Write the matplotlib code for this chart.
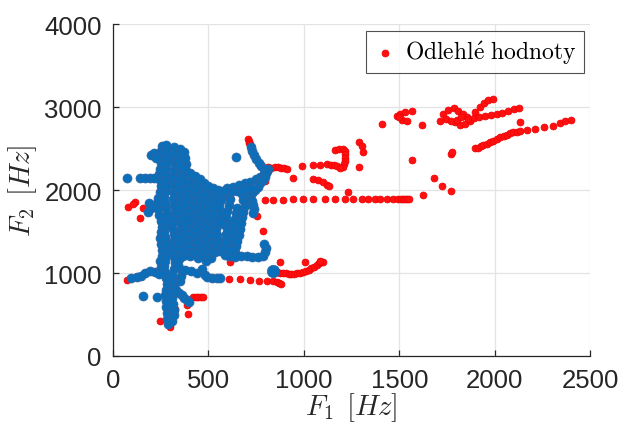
import matplotlib
matplotlib.use("Agg")
import matplotlib.pyplot as plt
import numpy as np

plt.rcParams['mathtext.fontset'] = 'cm'
plt.rcParams['font.family'] = ['Liberation Sans', 'DejaVu Sans']

# ---------------- data (F1, F2) in Hz ----------------
# outliers (red)
red_left = [(80, 1791), (115, 1852), (156, 1783), (141, 1659), (105, 1828)]
red_bottom = [(72, 919), (246, 422), (299, 350), (301, 380), (303, 410), (305, 440), (301, 470),
              (299, 490), (325, 566), (386, 614), (395, 506), (421, 707), (435, 707), (447, 707),
              (460, 707), (470, 707), (613, 1129)]
red_row900 = [(552, 936), (610, 924), (666, 922), (720, 914), (767, 906), (808, 898),
              (840, 905), (858, 890), (870, 875), (878, 866)]
red_curve1000 = [(850, 1030), (862, 1015), (875, 1005), (890, 998), (905, 995), (920, 993),
                 (935, 992), (950, 994), (965, 998), (980, 1003), (995, 1010), (1010, 1020),
                 (1025, 1035), (1040, 1055), (1055, 1075), (1068, 1095), (1080, 1115),
                 (1092, 1130), (1100, 1128), (1085, 1140), (1006, 1129), (875, 1136)]
red_row1890 = [(797, 1875), (840, 1880), (893, 1885), (945, 1888), (997, 1890), (1050, 1892),
               (1111, 1893), (1164, 1894), (1216, 1895), (1260, 1895), (1303, 1895),
               (1338, 1896), (1373, 1896), (1399, 1896), (1434, 1895), (1469, 1895),
               (1495, 1894), (1510, 1893), (1521, 1892), (1530, 1893), (1539, 1895),
               (1550, 1894), (1233, 1980), (1623, 1940), (1684, 2141), (1726, 2052),
               (1772, 1984)]
red_row2270 = [(812, 2265), (830, 2270), (848, 2275), (865, 2275), (880, 2270), (895, 2265),
               (912, 2255), (942, 2141), (989, 2285), (1047, 2301), (1085, 2301),
               (1120, 2313), (1140, 2305), (1160, 2300), (1175, 2285), (1165, 2480),
               (1185, 2490), (1205, 2495), (1216, 2470), (1218, 2430), (1216, 2390),
               (1214, 2350), (1212, 2310), (1205, 2280), (1190, 2272),
               (1050, 2133), (1076, 2120), (1102, 2092), (1123, 2060), (1130, 2048),
               (1291, 2582), (1303, 2534), (1312, 2454), (1291, 2273)]
red_arm_top = [(709, 2610), (711, 2590), (713, 2570), (718, 2550), (725, 2530),
               (797, 2112), (814, 2273), (753, 1683), (788, 1510)]
red_upper = [(1408, 2795), (1487, 2896), (1504, 2916), (1530, 2944), (1565, 2956),
             (1513, 2848), (1539, 2835), (1497, 2880), (1565, 2361), (1621, 2787),
             (1714, 2835), (1731, 2916), (1757, 2968), (1784, 2984), (1810, 2956),
             (1833, 2916), (1853, 2876), (1792, 2815), (1819, 2783), (1845, 2795),
             (1871, 2835), (1745, 2860), (1770, 2830), (1800, 2850), (1825, 2880),
             (1897, 2936), (1924, 2996), (1944, 3048), (1967, 3084), (1993, 3096),
             (1860, 2860), (1890, 2870), (1920, 2880), (1950, 2890), (1980, 2905),
             (2010, 2920), (2040, 2935), (2070, 2955), (2100, 2975), (2125, 2990),
             (2133, 2815), (1770, 2440), (1778, 2460)]
red_lower = [(1897, 2502), (1912, 2512), (1927, 2527), (1941, 2542), (1958, 2560),
             (1975, 2577), (1993, 2594), (2010, 2614), (2028, 2634), (2046, 2654),
             (2064, 2670), (2081, 2684), (2098, 2695), (2115, 2702), (2133, 2707),
             (2168, 2727), (2212, 2735), (2259, 2755), (2304, 2775), (2343, 2803),
             (2369, 2827), (2399, 2847)]

# main data (blue)
blue_tracks = [
    [(258, 1000), (252, 1070), (248, 1140), (255, 1210), (260, 1280), (254, 1350), (248, 1420),
     (250, 1490), (256, 1560), (250, 1630), (244, 1700), (238, 1770), (232, 1840), (238, 1910),
     (246, 1980), (252, 2050), (248, 2120), (242, 2190), (246, 2260), (252, 2330), (246, 2400),
     (250, 2470), (258, 2530)],
    [(290, 380), (286, 450), (282, 520), (280, 590), (276, 660), (272, 730), (276, 800),
     (282, 870), (278, 940), (272, 1010), (268, 1080), (274, 1150), (280, 1220), (284, 1290),
     (280, 1360), (274, 1430), (270, 1500), (276, 1570), (282, 1640), (286, 1710), (280, 1780),
     (274, 1850), (270, 1920), (276, 1990), (282, 2060), (278, 2130), (272, 2200), (276, 2270),
     (282, 2340), (286, 2410), (280, 2480), (276, 2540)],
    [(312, 420), (318, 490), (322, 560), (316, 630), (310, 700), (314, 770), (320, 840),
     (316, 910), (312, 980), (318, 1050), (324, 1120), (318, 1190), (312, 1260), (316, 1330),
     (322, 1400), (318, 1470), (312, 1540), (316, 1610), (322, 1680), (326, 1750), (320, 1820),
     (314, 1890), (318, 1960), (324, 2030), (320, 2100), (314, 2170), (318, 2240), (324, 2310),
     (320, 2380), (314, 2450), (320, 2520)],
    [(350, 900), (355, 970), (360, 1040), (340, 1100), (346, 1170), (352, 1240), (348, 1310),
     (342, 1380), (346, 1450), (352, 1520), (356, 1590), (350, 1660), (344, 1730), (348, 1800),
     (354, 1870), (350, 1940), (344, 2010), (340, 2080), (346, 2150), (352, 2220), (348, 2290),
     (342, 2360), (346, 2430), (352, 2500)],
    [(370, 1200), (376, 1270), (382, 1340), (378, 1410), (372, 1480), (376, 1550), (384, 1620),
     (390, 1690), (384, 1760), (378, 1830), (382, 1900), (388, 1970), (384, 2040), (376, 2110),
     (372, 2180), (378, 2250), (384, 2320), (380, 2390), (372, 2460)],
    [(405, 1200), (412, 1270), (418, 1340), (412, 1410), (406, 1480), (414, 1550), (420, 1620),
     (428, 1690), (420, 1760), (412, 1830), (418, 1900), (426, 1970), (420, 2040), (412, 2110)],
    [(428, 1240), (434, 1310), (438, 1380), (432, 1450), (428, 1520), (436, 1590), (442, 1660),
     (438, 1730), (432, 1800), (436, 1870), (444, 1940), (440, 2010), (436, 2080)],
    [(445, 1180), (452, 1250), (458, 1320), (450, 1390), (444, 1460), (452, 1530), (460, 1600),
     (466, 1670), (458, 1740), (450, 1810), (456, 1880), (462, 1950), (470, 2010)],
    [(472, 1200), (478, 1270), (482, 1340), (476, 1410), (470, 1480), (478, 1550), (486, 1620),
     (490, 1690), (482, 1760), (476, 1830), (482, 1900), (490, 1970), (494, 2040)],
    [(490, 1150), (498, 1220), (504, 1290), (496, 1360), (490, 1430), (498, 1500), (506, 1570),
     (512, 1640), (504, 1710), (498, 1780), (504, 1850), (512, 1920), (520, 1980)],
    [(516, 1180), (522, 1250), (528, 1320), (520, 1390), (514, 1460), (522, 1530), (530, 1600),
     (536, 1670), (530, 1740), (524, 1810), (530, 1880), (538, 1940)],
    [(535, 1250), (542, 1320), (550, 1390), (544, 1460), (538, 1530), (546, 1600), (556, 1670),
     (562, 1740), (556, 1810), (564, 1880), (572, 1940), (580, 1990)],
    [(588, 1400), (594, 1470), (600, 1540), (596, 1610), (590, 1680), (598, 1750), (606, 1820),
     (612, 1890), (606, 1960)],
    [(612, 1300), (618, 1370), (624, 1440), (628, 1510), (634, 1580), (640, 1650), (646, 1720),
     (652, 1790)],
    [(640, 1250), (646, 1320), (652, 1390), (660, 1460), (666, 1530), (672, 1600), (678, 1670),
     (684, 1740), (690, 1810), (684, 1880), (676, 1950), (668, 2010)],
]
blue_arms = [
    [(600, 2020), (630, 2040), (660, 2060), (690, 2080), (720, 2100), (748, 2130), (770, 2160),
     (790, 2190), (805, 2230), (812, 2260)],
    [(722, 2520), (730, 2470), (740, 2420), (752, 2370), (764, 2330), (778, 2290), (790, 2250),
     (800, 2210)],
    [(797, 2160), (785, 2120), (770, 2080), (760, 2040), (745, 2000), (730, 1960), (718, 1920),
     (726, 1880)],
    [(355, 2290), (380, 2250), (405, 2210), (430, 2170), (455, 2130), (478, 2090), (500, 2050),
     (525, 2020), (550, 2000), (575, 1990), (600, 1985), (625, 1990), (650, 1990), (675, 2000),
     (700, 2010), (725, 2030)],
    [(560, 1260), (585, 1220), (610, 1200), (640, 1195), (670, 1200), (700, 1200), (730, 1195),
     (760, 1190), (785, 1200), (795, 1250), (800, 1300), (790, 1350)],
    [(570, 1300), (600, 1320), (620, 1280), (590, 1380), (676, 1735), (577, 1590), (561, 1614),
     (728, 1870), (734, 1820), (740, 1770), (736, 1720)],
    [(380, 1040), (410, 1020), (440, 1000), (466, 1048), (480, 980), (493, 952), (519, 940),
     (545, 945), (560, 945)],
    [(95, 940), (125, 950), (150, 970), (170, 1000), (195, 1020), (220, 1010), (240, 990),
     (157, 723), (230, 711)],
    [(75, 2140), (140, 2145), (166, 2145), (192, 2145), (215, 2150), (200, 2420), (215, 2450),
     (225, 2390), (190, 1850), (200, 1780), (185, 1740), (645, 2394)],
    [(330, 800), (345, 760), (360, 730), (375, 700), (390, 670), (400, 650)],
]
blue_big = [(841, 1025)]

# ---------------- plotting ----------------
fig = plt.figure(figsize=(6.2, 4.27), dpi=100)
ax = fig.add_axes([0.182, 0.164, 0.770, 0.777])

red_all = (red_left + red_bottom + red_row900 + red_curve1000 + red_row1890 + red_row2270
           + red_arm_top + red_upper + red_lower)
rx = [p[0] for p in red_all]
ry = [p[1] for p in red_all]
ax.scatter(rx, ry, s=25, facecolor='#ff1010', edgecolor='#ee0000', linewidths=0.5,
           zorder=3, label=r'$\mathrm{Odlehl\acute{e}\ hodnoty}$')

blue_all = [p for tr in blue_tracks + blue_arms for p in tr]
bx = [p[0] for p in blue_all]
by = [p[1] for p in blue_all]
ax.scatter(bx, by, s=42, facecolor='#0a6fba', edgecolor='#2d64a3', linewidths=0.5, zorder=4)
ax.scatter([p[0] for p in blue_big], [p[1] for p in blue_big], s=80, facecolor='#0a6fba',
           edgecolor='#2d64a3', linewidths=0.5, zorder=4)

ax.set_xlim(0, 2500)
ax.set_ylim(0, 4000)
ax.set_xticks([0, 500, 1000, 1500, 2000, 2500])
ax.set_yticks([0, 1000, 2000, 3000, 4000])
ax.grid(True, color='#e3e3e3', linewidth=0.9, zorder=0)
ax.set_axisbelow(True)
for s in ['top', 'right']:
    ax.spines[s].set_visible(False)
for s in ['left', 'bottom']:
    ax.spines[s].set_color('#262626')
    ax.spines[s].set_linewidth(0.9)
ax.tick_params(direction='in', length=4, width=0.9, colors='#262626', labelsize=18.5,
               labelcolor='#262626')
ax.tick_params(axis='x', pad=9)
ax.tick_params(axis='y', pad=8)
ax.set_xlabel(r'$F_1\;\,[Hz]$', fontsize=20.5, color='#262626', labelpad=-2)
ax.set_ylabel(r'$F_2\;\,[Hz]$', fontsize=20.5, color='#262626', labelpad=4)

leg = ax.legend(loc='upper right', fontsize=17, frameon=True, fancybox=False,
                edgecolor='#262626', borderpad=0.3, handletextpad=0.35, handlelength=1.0,
                borderaxespad=0.0, bbox_to_anchor=(0.987, 0.979))
leg.get_frame().set_linewidth(0.8)

fig.savefig('out.png', dpi=100)
